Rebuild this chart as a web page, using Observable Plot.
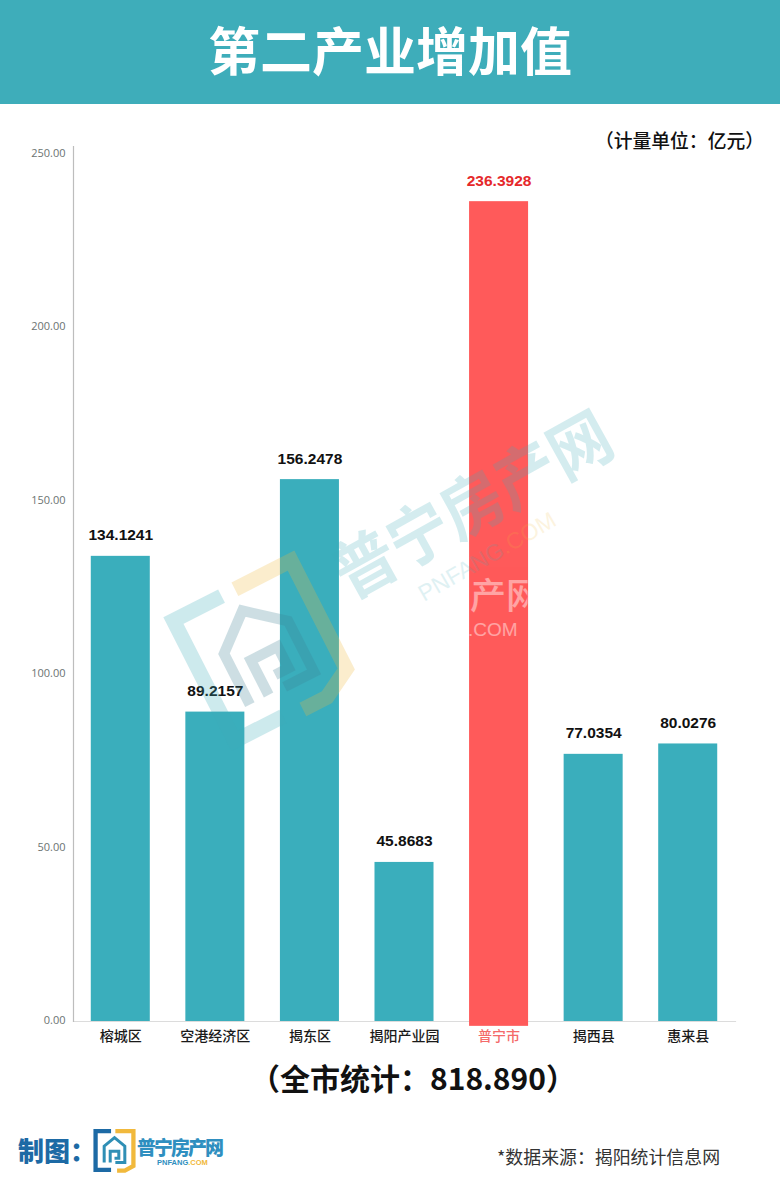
<!DOCTYPE html>
<html><head><meta charset="utf-8">
<script src="https://cdn.jsdelivr.net/npm/d3@7"></script>
<script src="https://cdn.jsdelivr.net/npm/@observablehq/plot@0.6"></script>
<style>
html,body{margin:0;padding:0;background:#fff}
#page{position:relative;width:780px;height:1189px;overflow:hidden;font-family:"Noto Sans CJK SC",sans-serif}
#banner{position:absolute;left:0;top:0;width:780px;height:104px;background:#3eadba;color:#fff;font-weight:700;font-size:52px;line-height:98px;text-align:center}
#unit{position:absolute;right:16px;top:126px;font-size:18.8px;font-weight:500;color:#111;line-height:28px;white-space:nowrap}
#chart{position:absolute;left:0;top:104px}
#chart svg{display:block}
#overlay,#logo{position:absolute}
#total{position:absolute;left:0;width:826px;top:1054px;text-align:center;font-size:30px;font-weight:700;color:#111;line-height:46px;white-space:nowrap}
#credit{position:absolute;left:18px;top:1130px;font-size:26px;font-weight:900;color:#1d6aa5;line-height:40px;white-space:nowrap}
#source{position:absolute;left:497px;top:1142px;font-size:17.9px;color:#333;line-height:28px;white-space:nowrap}
</style></head>
<body>
<div id="page">
  <div id="banner">第二产业增加值</div>
  <div id="chart"></div>
  <svg id="overlay" width="780" height="1189" style="left:0;top:0;pointer-events:none" font-family="Noto Sans CJK SC">
    <defs>
      <g id="mark">
        <path d="M42 5H6V95H42" fill="none" style="stroke:var(--b,#1d6aa5)" stroke-width="10"/>
        <path d="M52 5H94V86L74 97H56" fill="none" stroke="#f1b93c" stroke-width="10"/>
        <path d="M26 78V40L50 20L74 40V78H52M40 78V52H60V68H50" fill="none" style="stroke:var(--h,#2f8fb5)" stroke-width="7"/>
      </g>
      <clipPath id="redbar"><rect x="468.5" y="200" width="59" height="830"/></clipPath>
    </defs>
    <g opacity=".25" style="--b:#3eadba;--h:#3d7f93"><use href="#mark" transform="translate(162,618) rotate(-27) scale(1.5)"/></g>
    <text transform="translate(350,600) rotate(-29)" fill="#3eadba" opacity=".22" font-weight="700" font-size="66" textLength="307" lengthAdjust="spacingAndGlyphs">普宁房产网</text>
    <text transform="translate(424,602) rotate(-30)" font-family="Liberation Sans" font-size="23" fill="#3eadba" opacity=".16">PNFANG<tspan fill="#f1b93c">.COM</tspan></text>
    <g clip-path="url(#redbar)" fill="#fff" opacity=".45">
      <text x="470" y="609" font-size="36" font-weight="500">产网</text>
      <text x="468" y="636" font-family="Liberation Sans" font-size="19">.COM</text>
    </g>
  </svg>
  <div id="unit">（计量单位：亿元）</div>
  <div id="total">（全市统计：818.890）</div>
  <div id="credit">制图：</div>
  <svg id="logo" width="140" height="46" style="left:92px;top:1128px" font-family="Noto Sans CJK SC">
    <use href="#mark" transform="translate(1,1) scale(.43)"/>
    <text x="45" y="27" font-size="19" font-weight="900" fill="#2f8fc0" textLength="87">普宁房产网</text>
    <text x="65" y="37" font-family="Liberation Sans" font-size="7.5" font-weight="700" fill="#2f8fc0">PNFANG<tspan fill="#f1b93c">.COM</tspan></text>
  </svg>
  <div id="source">*数据来源：揭阳统计信息网</div>
</div>
<script>
const districts = ["榕城区","空港经济区","揭东区","揭阳产业园","普宁市","揭西县","惠来县"];
const values = [134.1241,89.2157,156.2478,45.8683,236.3928,77.0354,80.0276];
const valueLabels = ["134.1241","89.2157","156.2478","45.8683","236.3928","77.0354","80.0276"];
const yTicks = [0,50,100,150,200,250];
const highlight = "普宁市";
const highlightBase = -1.4;
const rows = districts.map((name,i)=>({name,value:values[i],label:valueLabels[i]}));
const isHi = d => (d.name ?? d) === highlight;

const chart = Plot.plot({
  width:780,height:956,
  marginTop:42,marginBottom:39,marginLeft:73,marginRight:45,
  style:{background:"transparent",fontFamily:'"Noto Sans CJK SC",sans-serif',overflow:"visible"},
  x:{domain:districts,paddingInner:0.376,paddingOuter:0.188,align:0.5,round:false,label:null},
  y:{domain:[0,252.3],label:null},
  marks:[
    Plot.frame({anchor:"bottom",stroke:"#dcdcdc",strokeWidth:1.2}),
    Plot.frame({anchor:"left",stroke:"#bdbdbd",strokeWidth:1.2}),
    Plot.barY(rows,{x:"name",y1:d=>isHi(d)?highlightBase:0,y2:"value",fill:d=>isHi(d)?"#ff5a5a":"#3aaebc"}),
    Plot.text(rows,{x:"name",y:"value",text:"label",dy:-21,
      fontFamily:"Liberation Sans",fontWeight:700,fontSize:15.5,
      fill:d=>isHi(d)?"#e5292b":"#111"}),
    Plot.axisY({ticks:yTicks,tickSize:0,tickPadding:8,tickFormat:d3.format(".2f"),
      label:null,fontFamily:"Open Sans",fontSize:11,fill:"#6b7372",dy:-1}),
    Plot.axisX({tickSize:0,tickPadding:10,label:null,fontSize:14,fontWeight:500,
      fill:d=>isHi(d)?"#f46a6a":"#1a1a1a"})
  ]
});
document.getElementById("chart").appendChild(chart);
</script>
</body></html>
